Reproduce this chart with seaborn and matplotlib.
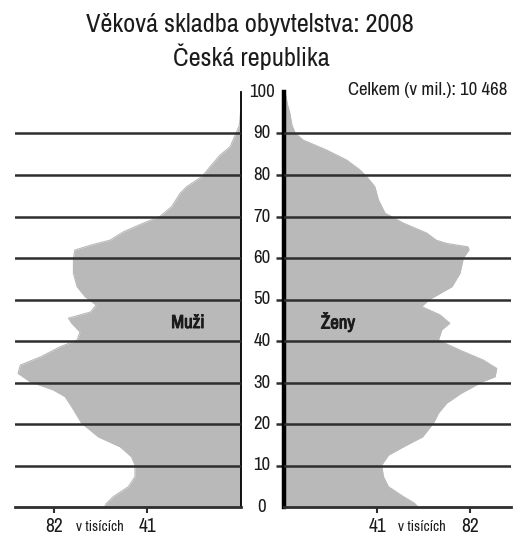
import matplotlib
matplotlib.use("Agg")
import matplotlib.pyplot as plt
import matplotlib.transforms as mtransforms
import matplotlib.patheffects as pe
from matplotlib import font_manager
import seaborn as sns
import pandas as pd

# ---- data (thousands of persons by age) ----
men_age = [95, 92, 90, 86.8, 84.8, 82, 79.6, 77.2, 75.6, 72.4, 70, 68.4, 66.3, 64.3, 63.1,
           61.9, 60, 56.3, 53.1, 50.7, 48.7, 47, 45.5, 44.3, 42.2, 40.2, 38.6, 36.2, 34.2,
           32.2, 30.2, 28.2, 26.6, 24.2, 20.2, 16.9, 14.5, 12.1, 10.1, 7.3, 4.9, 2.5, 0.9, 0]
men_val = [0, 0.5, 2, 4.6, 9, 13.4, 17, 23.7, 26.6, 30.3, 35.5, 42.8, 51.6, 57.5, 66,
           73, 73.6, 73.6, 72, 68.5, 63.6, 66, 75.8, 74.4, 70.7, 72, 79.5, 88, 97,
           98, 92.7, 82.4, 77.3, 74.4, 70, 62.6, 53, 48, 46.5, 46.5, 49.4, 56, 59, 60]

women_age = [100, 97, 95, 92, 90, 88.4, 86, 83.6, 81.2, 79.6, 77.2, 74, 70.8, 68.4, 66,
             64.3, 63.5, 62.7, 62, 60, 56.3, 53.1, 50, 48.3, 46.3, 44.3, 42.7, 40.2, 37.8,
             35.4, 33.4, 31.4, 30.2, 27.4, 25, 22.6, 20.2, 16.9, 14.5, 12.5, 10.1, 7.3,
             4.9, 2.5, 0.9, 0]
women_val = [0.5, 1.5, 2.5, 3.5, 5, 8.5, 18.8, 27.6, 33.5, 36.4, 40, 41.6, 44.5, 52.6, 62.9,
             67, 71.7, 81, 81.5, 79, 77.5, 74, 64, 60.6, 68.7, 73, 69.5, 68, 77.5,
             87.8, 93.7, 93, 87.5, 78, 71.6, 68, 65.8, 61, 52.6, 46, 43, 43.8,
             46, 52.6, 57.5, 59]

age_ticks = [0, 10, 20, 30, 40, 50, 60, 70, 80, 90, 100]
grid_ages = [10, 20, 30, 40, 50, 60, 70, 80, 90]
x_ticks = [82, 41]

title_1 = "Věková skladba obyvtelstva: 2008"
title_2 = "Česká republika"
total_text = "Celkem (v mil.): 10 468"
unit_text = "v tisících"
men_label = "Muži"
women_label = "Ženy"

# ---- style ----
sns.set_theme(style="white")

# choose a condensed face if one is installed
fonts = font_manager.fontManager.ttflist
narrow = [f.name for f in fonts if "Narrow" in f.name or "Condensed" in f.name]
if narrow:
    FAM = [narrow[0], "DejaVu Sans"]
    SCALE = 1.0
else:
    FAM = ["Liberation Sans", "DejaVu Sans"]
    SCALE = 0.85
plt.rcParams["font.family"] = FAM

TXT = "#1b1b1b"
FILL = "#b9b9b9"
GRID = "#2e2e2e"

W, H = 527, 538
fig = plt.figure(figsize=(W / 100, H / 100), dpi=100)
fig.patch.set_facecolor("white")

def fx(px):
    return px / W

def fy(py):
    return 1 - py / H

def T(x, y, s, size, bold=False, **kw):
    kw.setdefault("transform", fig.transFigure)
    t = fig.text(x, y, s, fontsize=size * SCALE, color=TXT, **kw)
    if bold:
        t.set_path_effects([pe.withStroke(linewidth=0.7, foreground=TXT)])
    return t

bottom_px, top_px = 507, 92
axL = fig.add_axes([fx(15), fy(bottom_px), fx(240.5 - 15), (bottom_px - top_px) / H])
axR = fig.add_axes([fx(284), fy(bottom_px), fx(511 - 284), (bottom_px - top_px) / H])

men_df = pd.DataFrame({"age": men_age, "val": men_val})
women_df = pd.DataFrame({"age": women_age, "val": women_val})

for ax, df in [(axL, men_df), (axR, women_df)]:
    ax.fill_betweenx(df["age"], 0, df["val"], color=FILL, lw=0, zorder=1)
    sns.lineplot(data=df, x="val", y="age", orient="y", sort=False, ax=ax,
                 color=FILL, lw=0.8, zorder=1.5, legend=False)
    for g in grid_ages:
        ax.axhline(g, color=GRID, lw=1.8, zorder=3)
    ax.set_ylim(0, 100)
    ax.set_xlabel("")
    ax.set_ylabel("")
    ax.set_facecolor("white")
    ax.set_xticks(x_ticks)
    ax.set_xticklabels([])
    ax.tick_params(axis="x", direction="out", length=4, width=1.5, color=GRID, bottom=True)

axL.set_xlim((240.5 - 15) / 2.27, 0)
axR.set_xlim(0, (511 - 284) / 2.27)

for sp in ["left", "top"]:
    axL.spines[sp].set_visible(False)
axL.spines["right"].set_visible(True)
axL.spines["right"].set_color("black")
axL.spines["right"].set_linewidth(1.3)
axL.spines["bottom"].set_color(GRID)
axL.spines["bottom"].set_linewidth(2.0)
axL.set_yticks([])

for sp in ["right", "top"]:
    axR.spines[sp].set_visible(False)
axR.spines["left"].set_color("black")
axR.spines["left"].set_linewidth(3.2)
axR.spines["bottom"].set_color(GRID)
axR.spines["bottom"].set_linewidth(2.0)
axR.set_yticks(grid_ages)
axR.set_yticklabels([])
axR.tick_params(axis="y", direction="out", length=6, width=1.8, color=GRID, left=True)

# age labels between the panels
tr_age = mtransforms.blended_transform_factory(fig.transFigure, axL.transData)
for a in age_ticks:
    T(fx(262), a, str(a), 13.5, transform=tr_age, ha="center", va="center")

# bottom labels
trL = mtransforms.blended_transform_factory(axL.transData, fig.transFigure)
trR = mtransforms.blended_transform_factory(axR.transData, fig.transFigure)
for v in x_ticks:
    T(v, fy(527), str(v), 14, transform=trL, ha="center", va="center")
    T(v, fy(527), str(v), 14, transform=trR, ha="center", va="center")
T(fx(99.5), fy(527), unit_text, 10.5, ha="center", va="center")
T(fx(422), fy(527), unit_text, 10.5, ha="center", va="center")

# panel labels
T(fx(188), fy(323), men_label, 13.5, bold=True, ha="center", va="center")
T(fx(338), fy(322), women_label, 13.5, bold=True, ha="center", va="center")

# titles
T(fx(250), fy(25), title_1, 19, ha="center", va="center")
T(fx(251), fy(57), title_2, 19, ha="center", va="center")
T(fx(507), fy(90), total_text, 13.5, ha="right", va="center")

fig.savefig("out.png", dpi=100, facecolor="white")
